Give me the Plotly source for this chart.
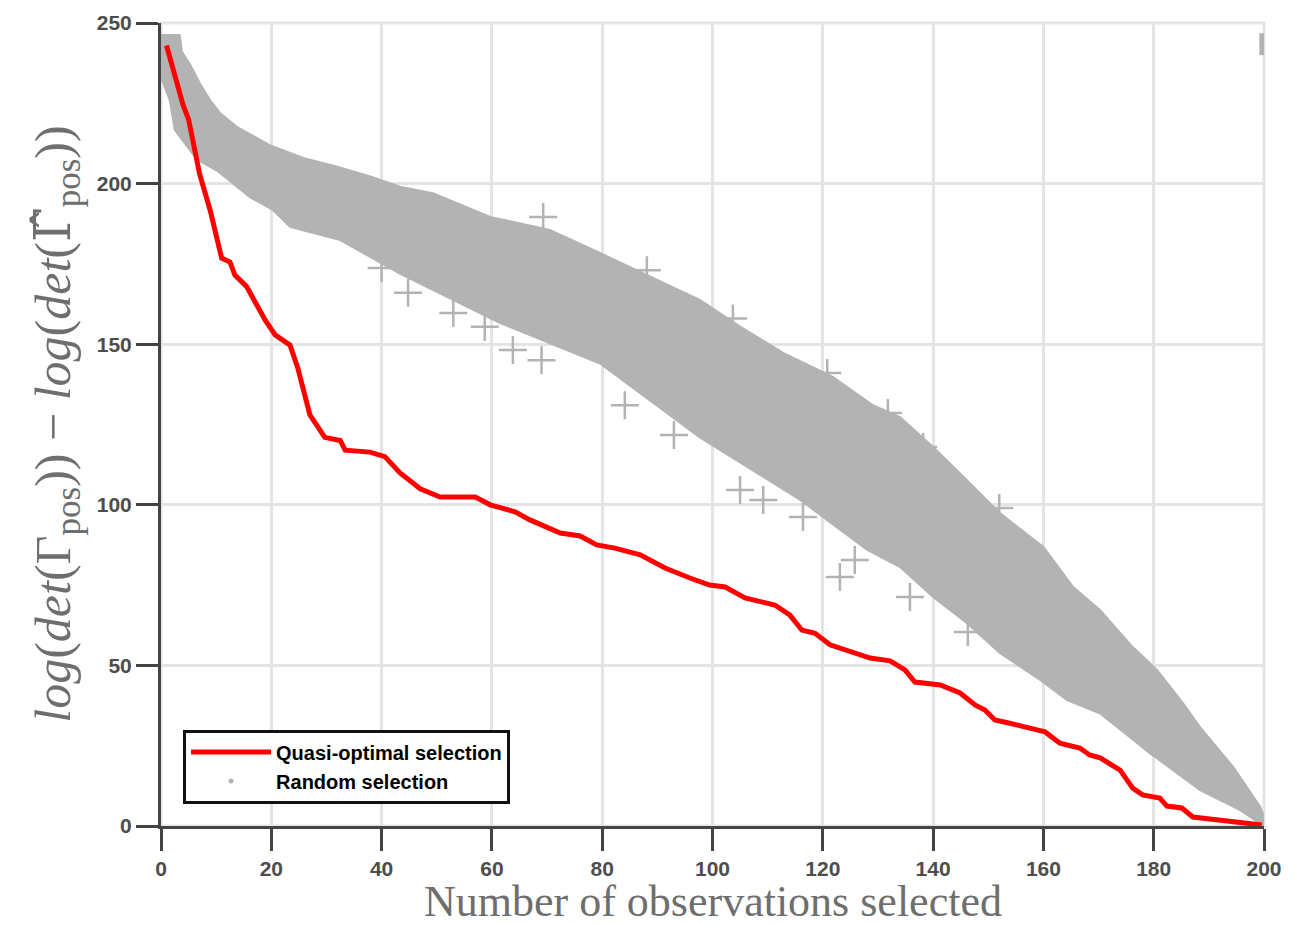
import plotly.graph_objects as go

# Quasi-optimal selection curve
opt_x = [1, 4, 5, 7, 8.9, 11, 12.5, 13.4, 15.5, 17.4, 18.9, 20.7, 23.4, 24.8, 27, 29.7, 32.5, 33.4,
         37.9, 40.6, 43.3, 47, 50.6, 57, 59.7, 64.2, 66.9, 72.4, 76, 79, 82.3, 86.9, 91.4, 95.9,
         99.5, 102.3, 105.9, 111.3, 114, 116.2, 118.6, 121.3, 124.9, 128.6, 132.2, 134.9, 136.7,
         141.3, 144.9, 147.6, 149.4, 151.2, 153.9, 157.6, 160.3, 163, 166.6, 168.4, 170.3, 173.9,
         176.2, 178, 181.1, 182.4, 185.1, 187.1, 199.6]
opt_y = [243, 224.5, 220, 203, 191.8, 176.8, 175.6, 171.5, 168, 162, 157.5, 152.9, 149.7, 142.6,
         128, 121, 120, 117, 116.4, 115, 110, 105, 102.4, 102.4, 100, 97.8, 95.3, 91.2, 90.3, 87.5,
         86.5, 84.4, 80.3, 77.2, 75, 74.4, 71, 68.8, 65.7, 61, 60, 56.4, 54.2, 52.3, 51.4, 48.6,
         44.8, 43.9, 41.4, 37.7, 36.1, 33, 32, 30.5, 29.3, 25.8, 24.3, 22.1, 21.2, 17.4, 11.8, 9.7,
         8.7, 6.2, 5.6, 2.8, 0.3]

# Random selection: upper and lower envelope of the dense cloud
rand_up_x = [0, 3.4, 3.8, 5.3, 7.1, 8.9, 10.7, 13.8, 19.7, 25.8, 31.8, 38.4, 43.3, 49.3, 59.7,
             70.5, 79.6, 88.7, 97.7, 105, 112.8, 121.8, 129.1, 134, 140, 146.1, 152.1, 160,
             165.4, 170.3, 176.2, 180.6, 185.3, 188.4, 194.4, 199.3, 200]
rand_up_y = [246.3, 246.3, 241, 237, 231, 226, 222, 217.6, 212, 208, 205.3, 202, 199, 197, 189.6,
             185.6, 178.4, 171, 163.8, 155.5, 147.3, 139.8, 131, 127.3, 118, 107.7, 97.4, 86.9,
             74.4, 67.2, 55.7, 48.6, 38.3, 30.8, 18.4, 6, 3]
rand_lo_x = [0, 1.6, 2.5, 6.5, 10.2, 13.1, 16.1, 20.3, 23.4, 32.5, 43.3, 61.5, 79.6, 97.7, 115.9,
             128, 134, 140, 146.1, 152.1, 159.4, 164.3, 170.3, 179.3, 188.4, 195.6, 200]
rand_lo_y = [233, 226, 216.7, 207.5, 204, 200, 195.8, 191.8, 186.5, 182.4, 172, 156.6, 144, 121,
             101.5, 86, 80.6, 71.3, 63.2, 53.9, 45.5, 39.2, 35, 22.7, 11.2, 5, 0]

# Random selection: isolated samples outside the dense cloud
rand_out_x = [40, 44.8, 53, 58.7, 63.8, 69, 84.1, 93, 105, 109.2, 116.4, 123.1, 125.8, 135.8,
              146.3, 69.3, 88.1, 103.7, 120.8, 131.8, 138.2, 152]
rand_out_y = [173.7, 166, 159.7, 155.4, 148.2, 145, 131, 121.7, 104.6, 101.5, 96.2, 77.5, 82.8,
              71.3, 60.4, 189.6, 173, 158, 141, 128.6, 118, 99]

# Stray sample column at the right edge
stray_x = [199.6, 199.6]
stray_y = [240, 246.8]

x_ticks = [0, 20, 40, 60, 80, 100, 120, 140, 160, 180, 200]
y_ticks = [0, 50, 100, 150, 200, 250]

GRAY = "#b3b3b3"
GRID = "#e4e4e4"
AXIS = "#444444"
SERIF = "Liberation Serif, DejaVu Serif, serif"
SANS = "Liberation Sans, Arial, sans-serif"

fig = go.Figure()

band_x = rand_up_x + rand_lo_x[::-1]
band_y = rand_up_y + rand_lo_y[::-1]
fig.add_trace(go.Scatter(x=band_x, y=band_y, mode="lines", fill="toself", fillcolor=GRAY,
                         line=dict(color=GRAY, width=2), showlegend=False, hoverinfo="skip"))
fig.add_trace(go.Scatter(x=rand_out_x, y=rand_out_y, mode="markers", showlegend=False,
                         marker=dict(symbol="cross-thin", size=20, color=GRAY,
                                     line=dict(color=GRAY, width=2.5))))
fig.add_trace(go.Scatter(x=stray_x, y=stray_y, mode="lines", showlegend=False,
                         line=dict(color=GRAY, width=5)))

fig.add_trace(go.Scatter(x=opt_x, y=opt_y, mode="lines", name="Quasi-optimal selection",
                         line=dict(color="#ff0000", width=5)))
fig.add_trace(go.Scatter(x=[None], y=[None], mode="markers", name="Random selection",
                         marker=dict(symbol="circle", size=5, color=GRAY)))

tick_font = dict(family=SANS, size=21, color="#4d4d4d", weight="bold")

y_title = ("<i>log</i>(<i>det</i>(Γ<sub>pos</sub>)) − <i>log</i>(<i>det</i>("
           "<span style=\"font-family:'DejaVu Serif'\">Γ\u0302</span><sub>pos</sub>))")

fig.update_layout(
    width=1312, height=925,
    margin=dict(l=161, r=48, t=23, b=99),
    plot_bgcolor="white", paper_bgcolor="white",
    showlegend=True,
    legend=dict(x=0.02, y=0.028, xanchor="left", yanchor="bottom",
                bgcolor="white", bordercolor="#111111", borderwidth=3,
                font=dict(family=SANS, size=20, color="black", weight="bold"),
                itemwidth=80, tracegroupgap=0),
    xaxis=dict(range=[0, 200], tickvals=x_ticks, showgrid=True, gridcolor=GRID, gridwidth=3,
               zeroline=False, showline=True, linecolor=AXIS, linewidth=3,
               ticks="outside", ticklen=22, tickwidth=3, tickcolor=AXIS,
               tickfont=tick_font),
    yaxis=dict(range=[0, 250], tickvals=y_ticks, showgrid=True, gridcolor=GRID, gridwidth=3,
               zeroline=False, showline=True, linecolor=AXIS, linewidth=3,
               ticks="outside", ticklen=22, tickwidth=3, tickcolor=AXIS,
               tickfont=tick_font),
    shapes=[dict(type="rect", xref="paper", yref="paper", x0=0, y0=0, x1=1, y1=1,
                 line=dict(color=GRID, width=3), layer="below")],
    annotations=[
        dict(text="Number of observations selected", xref="paper", yref="paper",
             x=0.5, y=-0.0934, xanchor="center", yanchor="middle", showarrow=False,
             font=dict(family=SERIF, size=44, color="#6e6e6e")),
        dict(text=y_title, xref="paper", yref="paper", x=-0.095, y=0.5,
             xanchor="center", yanchor="middle", textangle=-90, showarrow=False,
             font=dict(family=SERIF, size=50, color="#6e6e6e")),
    ],
)

fig.write_html("out.html")
